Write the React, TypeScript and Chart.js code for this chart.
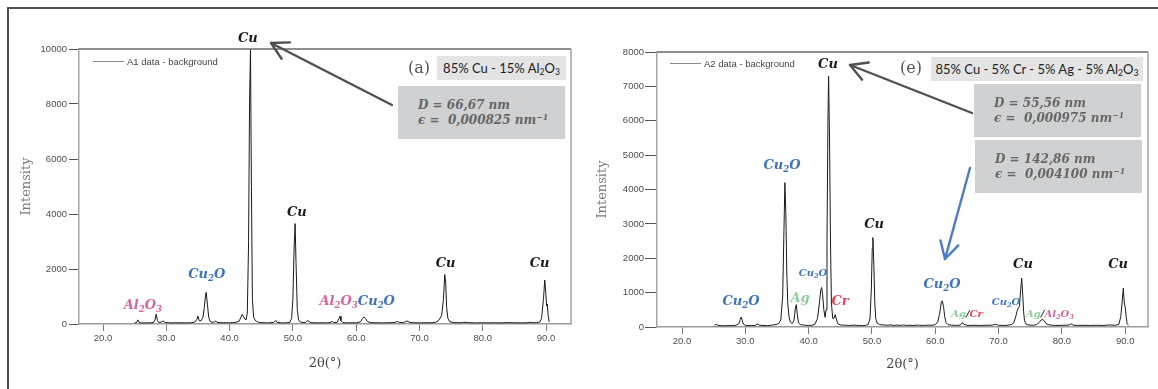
import React, { useEffect, useRef } from "react";
import { Chart, registerables } from "chart.js";

Chart.register(...registerables);

// ---------- data ----------
const xTickValues = [20, 30, 40, 50, 60, 70, 80, 90];

const a1Angles = [
  25.0, 25.3, 25.5, 25.7, 26.0, 26.5, 27.0, 27.5, 28.0, 28.2,
  28.4, 28.6, 28.8, 29.2, 29.5, 29.8, 30.3, 31.0, 31.5, 32.0,
  32.5, 33.0, 33.5, 34.0, 34.5, 34.8, 35.0, 35.2, 35.5, 35.8,
  36.0, 36.2, 36.3, 36.5, 36.7, 36.9, 37.2, 37.6, 37.8, 38.0,
  38.5, 39.0, 39.5, 40.0, 40.5, 41.0, 41.5, 41.8, 42.0, 42.2,
  42.4, 42.6, 42.8, 43.0, 43.15, 43.3, 43.45, 43.6, 43.8, 44.0,
  44.3, 44.6, 45.0, 45.5, 46.0, 46.5, 47.0, 47.3, 47.5, 48.0,
  48.5, 49.0, 49.5, 49.8, 50.0, 50.2, 50.35, 50.5, 50.7, 50.9,
  51.2, 51.6, 52.0, 52.4, 52.6, 53.0, 54.0, 55.0, 55.5, 56.0,
  56.2, 56.4, 57.0, 57.3, 57.45, 57.6, 57.9, 58.5, 59.0, 60.0,
  60.7, 61.0, 61.2, 61.5, 61.8, 62.2, 63.0, 64.0, 65.0, 66.0,
  66.5, 66.8, 67.5, 68.0, 68.2, 68.5, 69.0, 70.0, 71.0, 72.0,
  72.5, 73.0, 73.5, 73.8, 74.0, 74.15, 74.3, 74.5, 74.8, 75.5,
  76.5, 77.0, 77.5, 78.0, 79.0, 80.0, 81.0, 82.0, 83.0, 84.0,
  85.0, 86.0, 87.0, 87.5, 88.0, 88.5, 89.0, 89.3, 89.6, 89.8,
  89.95, 90.1, 90.2, 90.35, 90.5,
];
const a1Intensity = [
  40, 55, 150, 60, 40, 35, 45, 40, 60, 150,
  360, 120, 60, 70, 110, 60, 45, 40, 50, 40,
  45, 40, 45, 50, 70, 150, 290, 120, 120, 250,
  600, 1050, 1150, 700, 250, 100, 60, 80, 110, 60,
  50, 45, 50, 45, 50, 60, 100, 250, 350, 260,
  180, 150, 400, 3000, 8000, 10000, 5000, 900, 250, 150,
  90, 60, 50, 45, 40, 50, 60, 130, 60, 45,
  40, 45, 60, 200, 900, 2800, 3650, 2200, 500, 150,
  70, 50, 60, 130, 70, 45, 40, 45, 40, 60,
  100, 50, 60, 200, 280, 120, 50, 40, 45, 40,
  80, 200, 260, 190, 90, 50, 45, 40, 45, 50,
  90, 60, 50, 110, 90, 60, 45, 40, 45, 45,
  60, 120, 300, 900, 1800, 1500, 600, 200, 80, 50,
  45, 60, 55, 45, 40, 45, 40, 45, 40, 50,
  45, 40, 45, 60, 45, 50, 70, 200, 900, 1600,
  1200, 650, 720, 300, 80,
];

const a2Angles = [
  25.2, 25.4, 25.6, 26.0, 26.5, 27.0, 27.5, 28.0, 28.5, 29.0,
  29.2, 29.35, 29.5, 29.7, 30.0, 30.5, 31.0, 31.5, 32.0, 32.2,
  32.8, 33.5, 34.0, 34.5, 35.0, 35.3, 35.6, 35.9, 36.1, 36.25,
  36.4, 36.55, 36.7, 36.9, 37.1, 37.4, 37.7, 37.9, 38.05, 38.2,
  38.4, 38.7, 39.0, 39.5, 40.0, 40.5, 41.0, 41.4, 41.7, 41.9,
  42.05, 42.2, 42.4, 42.6, 42.75, 42.9, 43.05, 43.15, 43.3, 43.45,
  43.6, 43.8, 44.0, 44.2, 44.35, 44.6, 45.0, 45.5, 46.0, 46.5,
  47.0, 47.5, 48.0, 48.5, 49.0, 49.4, 49.7, 49.9, 50.05, 50.15,
  50.3, 50.45, 50.6, 50.8, 51.2, 51.8, 52.5, 53.0, 53.5, 54.0,
  54.5, 55.0, 55.5, 56.0, 56.5, 57.0, 57.5, 58.0, 58.5, 59.0,
  59.5, 60.0, 60.4, 60.7, 60.95, 61.1, 61.3, 61.5, 61.7, 62.0,
  62.5, 63.0, 63.5, 64.0, 64.3, 64.5, 65.0, 65.5, 66.0, 67.0,
  68.0, 69.0, 69.5, 70.0, 71.0, 71.5, 72.0, 72.4, 72.7, 72.95,
  73.1, 73.3, 73.5, 73.65, 73.8, 73.95, 74.1, 74.4, 75.0, 75.5,
  76.0, 76.4, 76.7, 77.0, 77.2, 77.5, 77.8, 78.5, 79.0, 80.0,
  81.0, 81.5, 81.8, 82.5, 83.5, 84.5, 85.5, 86.5, 87.5, 88.5,
  89.0, 89.3, 89.55, 89.7, 89.85, 90.0, 90.15, 90.3, 90.5,
];
const a2Intensity = [
  40, 90, 50, 40, 35, 40, 45, 40, 50, 100,
  220, 290, 200, 80, 50, 40, 45, 40, 90, 50,
  45, 40, 50, 60, 80, 110, 200, 900, 2800, 4200,
  3300, 1600, 700, 300, 150, 100, 200, 550, 650, 380,
  120, 70, 60, 50, 45, 50, 80, 250, 700, 1050,
  1150, 950, 500, 280, 500, 2500, 6000, 7300, 5500, 2500,
  700, 250, 250, 360, 250, 100, 60, 55, 50, 45,
  55, 50, 45, 40, 50, 70, 250, 1100, 2300, 2600,
  1800, 700, 250, 120, 70, 60, 50, 60, 45, 55,
  45, 60, 45, 50, 45, 55, 50, 45, 50, 55,
  50, 70, 150, 400, 720, 760, 600, 300, 130, 70,
  55, 50, 45, 60, 130, 80, 50, 45, 50, 45,
  50, 55, 80, 50, 45, 55, 70, 120, 300, 480,
  550, 600, 1100, 1420, 1000, 450, 180, 70, 55, 50,
  70, 130, 200, 220, 180, 100, 70, 50, 45, 50,
  55, 90, 55, 45, 50, 45, 50, 45, 60, 50,
  80, 300, 800, 1130, 700, 580, 300, 100, 50,
];

// ---------- styles ----------
const CU = "#1c1c1c";
const BLUE = "#3f74b8";
const PINK = "#d667a0";
const GREEN = "#8fcf9c";
const RED = "#e0485f";

type Part = { t: string; c: string };
type PeakLabel = { x: number; y: number; size: number; parts: Part[] };

const a1Labels: PeakLabel[] = [
  { x: 42.88, y: 10436, size: 13, parts: [{ t: "Cu", c: CU }] },
  { x: 26.3, y: 727, size: 13, parts: [{ t: "Al2O3", c: PINK }] },
  { x: 36.4, y: 1855, size: 13, parts: [{ t: "Cu2O", c: BLUE }] },
  { x: 50.62, y: 4109, size: 13, parts: [{ t: "Cu", c: CU }] },
  { x: 60.17, y: 873, size: 13, parts: [{ t: "Al2O3", c: PINK }, { t: "Cu2O", c: BLUE }] },
  { x: 74.14, y: 2255, size: 13, parts: [{ t: "Cu", c: CU }] },
  { x: 88.98, y: 2255, size: 13, parts: [{ t: "Cu", c: CU }] },
];

const a2Labels: PeakLabel[] = [
  { x: 43.06, y: 7680, size: 13, parts: [{ t: "Cu", c: CU }] },
  { x: 35.79, y: 4742, size: 13, parts: [{ t: "Cu2O", c: BLUE }] },
  { x: 29.32, y: 785, size: 13, parts: [{ t: "Cu2O", c: BLUE }] },
  { x: 38.64, y: 873, size: 13, parts: [{ t: "Ag", c: GREEN }] },
  { x: 40.69, y: 1600, size: 10, parts: [{ t: "Cu2O", c: BLUE }] },
  { x: 44.96, y: 785, size: 13, parts: [{ t: "Cr", c: RED }] },
  { x: 50.33, y: 3025, size: 13, parts: [{ t: "Cu", c: CU }] },
  { x: 61.07, y: 1280, size: 13, parts: [{ t: "Cu2O", c: BLUE }] },
  { x: 65.01, y: 407, size: 10, parts: [{ t: "Ag", c: GREEN }, { t: "/", c: "#333" }, { t: "Cr", c: RED }] },
  { x: 71.18, y: 756, size: 10, parts: [{ t: "Cu2O", c: BLUE }] },
  { x: 78.12, y: 407, size: 10, parts: [{ t: "Ag", c: GREEN }, { t: "/", c: "#333" }, { t: "Al2O3", c: PINK }] },
  { x: 73.86, y: 1862, size: 13, parts: [{ t: "Cu", c: CU }] },
  { x: 88.87, y: 1862, size: 13, parts: [{ t: "Cu", c: CU }] },
];

const LABEL_FONT = '"DejaVu Serif"';

const peakLabelPlugin = {
  id: "peakLabels",
  afterDatasetsDraw(chart: any, _args: any, opts: any) {
    const labels: PeakLabel[] = (opts && opts.labels) || [];
    const { ctx, scales } = chart;
    ctx.save();
    ctx.textBaseline = "alphabetic";
    ctx.textAlign = "left";
    for (const lab of labels) {
      const px = scales.x.getPixelForValue(lab.x);
      const py = scales.y.getPixelForValue(lab.y);
      const fMain = `italic bold ${lab.size}px ${LABEL_FONT}`;
      const fSub = `italic bold ${(lab.size * 0.66).toFixed(1)}px ${LABEL_FONT}`;
      const runs: { ch: string; sub: boolean; c: string; w: number }[] = [];
      for (const p of lab.parts) {
        for (const ch of p.t) {
          const sub = /[0-9]/.test(ch);
          ctx.font = sub ? fSub : fMain;
          runs.push({ ch, sub, c: p.c, w: ctx.measureText(ch).width });
        }
      }
      const total = runs.reduce((s, r) => s + r.w, 0);
      let cx = px - total / 2;
      const base = py + lab.size * 0.36;
      for (const r of runs) {
        ctx.font = r.sub ? fSub : fMain;
        ctx.fillStyle = r.c;
        ctx.fillText(r.ch, cx, r.sub ? base + lab.size * 0.22 : base);
        cx += r.w;
      }
    }
    ctx.restore();
  },
};

const framePlugin = {
  id: "frameLines",
  afterDraw(chart: any) {
    const { ctx, chartArea } = chart;
    const { left, top, right, bottom } = chartArea;
    ctx.save();
    ctx.lineWidth = 1.3;
    ctx.strokeStyle = "#6a6a6a";
    ctx.beginPath();
    ctx.moveTo(left, top);
    ctx.lineTo(right, top);
    ctx.stroke();
    ctx.lineWidth = 1.5;
    ctx.strokeStyle = "#a2a2a2";
    ctx.beginPath();
    ctx.moveTo(right, top);
    ctx.lineTo(right, bottom);
    ctx.stroke();
    ctx.restore();
  },
};

type CfgOpts = {
  angles: number[];
  values: number[];
  label: string;
  xMin: number;
  xMax: number;
  yMax: number;
  yStep: number;
  yWidth: number;
  padding: { left: number; top: number; right: number; bottom: number };
  yTitlePad: number;
  xTitlePad: number;
  yTickLen: number;
  yTickPad: number;
  labels: PeakLabel[];
};

function buildConfig(o: CfgOpts): any {
  const tickFont = { family: '"Liberation Sans", Arial, sans-serif', size: 9.5 };
  return {
    type: "line",
    data: {
      datasets: [
        {
          label: o.label,
          data: o.angles.map((x, i) => ({ x, y: o.values[i] })),
          borderColor: "#1a1a1a",
          borderWidth: 1,
          pointRadius: 0,
          tension: 0,
          fill: false,
        },
      ],
    },
    options: {
      animation: false,
      responsive: false,
      devicePixelRatio: 1,
      layout: { padding: o.padding },
      plugins: {
        legend: { display: false },
        tooltip: { enabled: false },
        peakLabels: { labels: o.labels },
      },
      scales: {
        x: {
          type: "linear",
          min: o.xMin,
          max: o.xMax,
          afterBuildTicks: (s: any) => {
            s.ticks = xTickValues.map((v) => ({ value: v }));
          },
          afterFit: (s: any) => {
            s.height = 50;
          },
          ticks: {
            autoSkip: false,
            maxRotation: 0,
            padding: 2,
            color: "#4d4d4d",
            font: tickFont,
            callback: (v: any) => Number(v).toFixed(1),
          },
          grid: {
            drawOnChartArea: false,
            drawTicks: true,
            tickLength: 7,
            color: "#7a7a7a",
            lineWidth: 1,
          },
          border: { display: true, color: "#9a9a9a", width: 1.5 },
          title: {
            display: true,
            text: "2θ(°)",
            color: "#444",
            font: { family: LABEL_FONT, size: 13 },
            padding: { top: 0, bottom: o.xTitlePad },
          },
        },
        y: {
          type: "linear",
          min: 0,
          max: o.yMax,
          afterFit: (s: any) => {
            s.width = o.yWidth;
          },
          ticks: {
            stepSize: o.yStep,
            padding: o.yTickPad,
            color: "#4d4d4d",
            font: tickFont,
            callback: (v: any) => String(v),
          },
          grid: {
            drawOnChartArea: false,
            drawTicks: true,
            tickLength: o.yTickLen,
            color: "#555",
            lineWidth: 1,
          },
          border: { display: true, color: "#a5a5a5", width: 1.5 },
          title: {
            display: true,
            text: "Intensity",
            color: "#7a7a7a",
            font: { family: LABEL_FONT, size: 13 },
            padding: { top: o.yTitlePad, bottom: 0 },
          },
        },
      },
    },
    plugins: [framePlugin, peakLabelPlugin],
  };
}

// ---------- overlay helpers ----------
const subStyle: React.CSSProperties = { fontSize: "0.66em", verticalAlign: "-0.25em", lineHeight: 0 };
const supStyle: React.CSSProperties = { fontSize: "0.66em", verticalAlign: "0.45em", lineHeight: 0 };

function Arrow({ x1, y1, x2, y2, color }: { x1: number; y1: number; x2: number; y2: number; color: string }) {
  const ang = Math.atan2(y1 - y2, x1 - x2);
  const L = 19;
  const spread = (29 * Math.PI) / 180;
  const w1x = x2 + L * Math.cos(ang - spread);
  const w1y = y2 + L * Math.sin(ang - spread);
  const w2x = x2 + L * Math.cos(ang + spread);
  const w2y = y2 + L * Math.sin(ang + spread);
  return (
    <g stroke={color} strokeWidth={2.4} fill="none" strokeLinecap="round" strokeLinejoin="round">
      <line x1={x1} y1={y1} x2={x2} y2={y2} />
      <polyline points={`${w1x},${w1y} ${x2},${y2} ${w2x},${w2y}`} />
    </g>
  );
}

const mathText: React.CSSProperties = {
  fontFamily: LABEL_FONT,
  fontStyle: "italic",
  fontWeight: "bold",
  fontSize: 12,
  color: "#666",
  lineHeight: "15px",
  whiteSpace: "nowrap",
};

function ResultBox({ left, top, d, eps }: { left: number; top: number; d: string; eps: string }) {
  return (
    <div
      style={{
        position: "absolute",
        left,
        top,
        width: 167,
        height: 53,
        background: "#d0d1d2",
        boxSizing: "border-box",
        paddingLeft: 20,
        paddingTop: 12,
        ...mathText,
      }}
    >
      <div>D = {d} nm</div>
      <div>
        ϵ = &nbsp;{eps} nm<span style={supStyle}>−1</span>
      </div>
    </div>
  );
}

function TitleBox({ left, top, width, children }: { left: number; top: number; width: number; children: React.ReactNode }) {
  return (
    <div
      style={{
        position: "absolute",
        left,
        top,
        width,
        height: 24,
        background: "#e4e4e4",
        display: "flex",
        alignItems: "center",
        justifyContent: "center",
        fontFamily: "Lato, 'Open Sans', sans-serif",
        fontSize: 13,
        color: "#222",
        whiteSpace: "nowrap",
      }}
    >
      <span>{children}</span>
    </div>
  );
}

function Legend({ left, top, text }: { left: number; top: number; text: string }) {
  return (
    <div
      style={{
        position: "absolute",
        left,
        top: top - 7,
        height: 14,
        display: "flex",
        alignItems: "center",
        fontFamily: '"Liberation Sans", Arial, sans-serif',
        fontSize: 9.5,
        color: "#444",
        whiteSpace: "nowrap",
      }}
    >
      <span style={{ display: "inline-block", width: 31, height: 1, background: "#8a8a8a", marginRight: 3 }} />
      <span>{text}</span>
    </div>
  );
}

function PanelTag({ cx, cy, text }: { cx: number; cy: number; text: string }) {
  return (
    <div
      style={{
        position: "absolute",
        left: cx,
        top: cy,
        transform: "translate(-50%, -50%)",
        fontFamily: LABEL_FONT,
        fontSize: 16,
        color: "#555",
        lineHeight: 1,
        whiteSpace: "nowrap",
      }}
    >
      {text}
    </div>
  );
}

export default function App() {
  const leftRef = useRef<HTMLCanvasElement>(null);
  const rightRef = useRef<HTMLCanvasElement>(null);

  useEffect(() => {
    const c1 = new Chart(
      leftRef.current!,
      buildConfig({
        angles: a1Angles,
        values: a1Intensity,
        label: "A1 data - background",
        xMin: 16.2,
        xMax: 93.95,
        yMax: 10000,
        yStep: 2000,
        yWidth: 79,
        padding: { left: 0, top: 49, right: 9, bottom: 15 },
        yTitlePad: 19,
        xTitlePad: 3,
        yTickLen: 10,
        yTickPad: 2,
        labels: a1Labels,
      })
    );
    const c2 = new Chart(
      rightRef.current!,
      buildConfig({
        angles: a2Angles,
        values: a2Intensity,
        label: "A2 data - background",
        xMin: 16.05,
        xMax: 93.6,
        yMax: 8000,
        yStep: 1000,
        yWidth: 77,
        padding: { left: 0, top: 52, right: 10, bottom: 12 },
        yTitlePad: 15,
        xTitlePad: 5,
        yTickLen: 12,
        yTickPad: 1,
        labels: a2Labels,
      })
    );
    return () => {
      c1.destroy();
      c2.destroy();
    };
  }, []);

  return (
    <div
      style={{
        position: "absolute",
        left: 0,
        top: 0,
        width: 1158,
        height: 389,
        background: "#fff",
        overflow: "hidden",
      }}
    >
      <canvas ref={leftRef} width={580} height={389} style={{ position: "absolute", left: 0, top: 0, width: 580, height: 389 }} />
      <canvas ref={rightRef} width={578} height={389} style={{ position: "absolute", left: 580, top: 0, width: 578, height: 389 }} />

      {/* outer frame (top & left) */}
      <div style={{ position: "absolute", left: 7, top: 7, width: 1151, height: 2, background: "#4d4d4d" }} />
      <div style={{ position: "absolute", left: 7, top: 7, width: 2, height: 382, background: "#4d4d4d" }} />

      <Legend left={93} top={61} text="A1 data - background" />
      <Legend left={670} top={63} text="A2 data - background" />

      <PanelTag cx={419} cy={68} text="(a)" />
      <TitleBox left={437} top={56} width={129}>
        85% Cu - 15% Al<span style={subStyle}>2</span>O<span style={subStyle}>3</span>
      </TitleBox>
      <ResultBox left={398} top={86} d="66,67" eps="0,000825" />

      <PanelTag cx={911} cy={68} text="(e)" />
      <TitleBox left={931} top={57} width={212}>
        85% Cu - 5% Cr - 5% Ag - 5% Al<span style={subStyle}>2</span>O<span style={subStyle}>3</span>
      </TitleBox>
      <ResultBox left={974} top={84} d="55,56" eps="0,000975" />
      <ResultBox left={975} top={140} d="142,86" eps="0,004100" />

      <svg width={1158} height={389} style={{ position: "absolute", left: 0, top: 0, pointerEvents: "none" }}>
        <Arrow x1={392} y1={105} x2={271} y2={43} color="#505050" />
        <Arrow x1={972} y1={113} x2={850} y2={65} color="#505050" />
        <Arrow x1={970} y1={168} x2={945} y2={259} color="#4a7cc9" />
      </svg>
    </div>
  );
}
